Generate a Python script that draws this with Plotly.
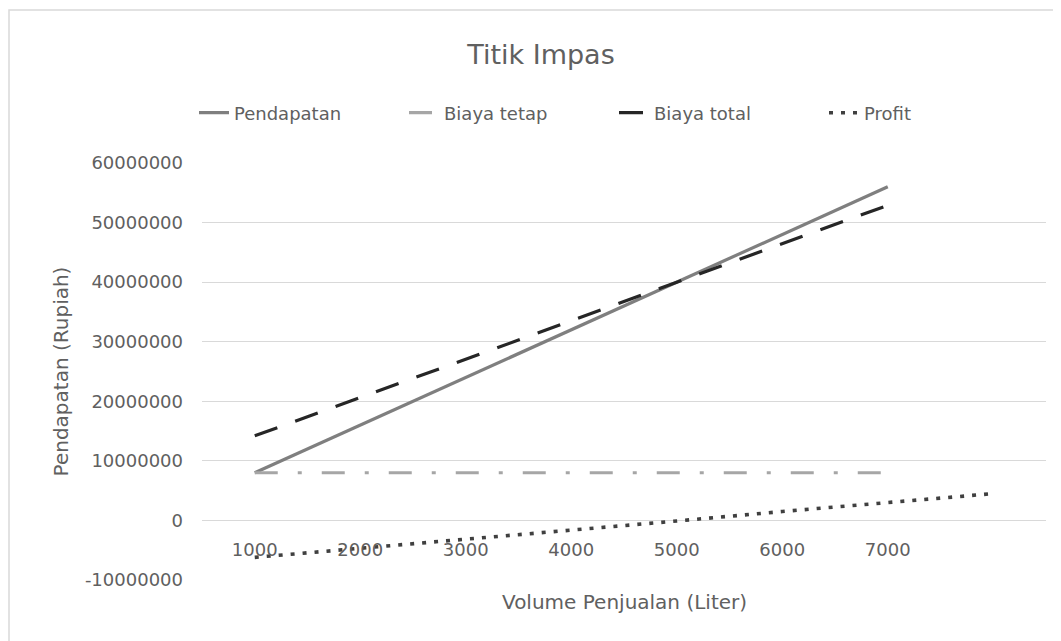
import plotly.graph_objects as go

# ---- data ----
volume = [1000, 2000, 3000, 4000, 5000, 6000, 7000]
profit_volume = [1000, 2000, 3000, 4000, 5000, 6000, 7000, 8000]
x_tick_labels = ["1000", "2000", "3000", "4000", "5000", "6000", "7000"]
y_tick_values = [-10000000, 0, 10000000, 20000000, 30000000, 40000000, 50000000, 60000000]
y_tick_labels = ["-10000000", "0", "10000000", "20000000", "30000000", "40000000",
                 "50000000", "60000000"]

pendapatan = [8000000, 16000000, 24000000, 32000000, 40000000, 48000000, 56000000]
biaya_tetap = [8000000, 8000000, 8000000, 8000000, 8000000, 8000000, 8000000]
biaya_total = [14200000, 20600000, 27100000, 33500000, 40000000, 46400000, 52900000]
profit = [-6200000, -4700000, -3100000, -1600000, -100000, 1500000, 3000000, 4500000]

FONT = "DejaVu Sans"
TXT = "#606060"
GRID = "#d9d9d9"

W, H = 1053, 633   # page body adds an 8px offset

fig = go.Figure()
fig.add_trace(go.Scatter(x=volume, y=pendapatan, name="Pendapatan", mode="lines",
                         line=dict(color="#7f7f7f", width=3.2)))
fig.add_trace(go.Scatter(x=volume, y=biaya_tetap, name="Biaya tetap", mode="lines",
                         line=dict(color="#a6a6a6", width=3.2, dash="23px,20px,4px,20px")))
fig.add_trace(go.Scatter(x=volume, y=biaya_total, name="Biaya total", mode="lines",
                         line=dict(color="#262626", width=3.2, dash="24px,19px")))
fig.add_trace(go.Scatter(x=profit_volume, y=profit, name="Profit", mode="lines",
                         line=dict(color="#404040", width=3.6, dash="4px,8px")))

fig.update_layout(
    width=W, height=H,
    margin=dict(l=194, r=15, t=155, b=61, autoexpand=False),
    paper_bgcolor="white", plot_bgcolor="white",
    font=dict(family=FONT, color=TXT, size=18),
    title=dict(text="Titik Impas", font=dict(family=FONT, size=27, color=TXT),
               xref="container", x=533/W, xanchor="center",
               yref="container", y=1-47/H, yanchor="middle"),
    legend=dict(orientation="h", xref="container", yref="container",
                x=186/W, xanchor="left", y=1-105/H, yanchor="middle",
                font=dict(family=FONT, size=18, color=TXT),
                entrywidth=165, bgcolor="rgba(0,0,0,0)"),
    showlegend=True,
    xaxis=dict(range=[500, 8500], tickvals=volume, ticktext=x_tick_labels,
               showgrid=False, zeroline=False, showline=False, ticks="",
               anchor="free", position=1/7, ticklabelstandoff=17,
               tickfont=dict(family=FONT, size=18, color=TXT)),
    yaxis=dict(range=[-10000000, 60000000], tickvals=y_tick_values, ticktext=y_tick_labels,
               showgrid=True, gridcolor=GRID, gridwidth=1.3,
               zeroline=True, zerolinecolor=GRID, zerolinewidth=1.3,
               showline=False, ticks="", ticklabelstandoff=18,
               tickfont=dict(family=FONT, size=18, color=TXT),
               title=dict(text="Pendapatan (Rupiah)", standoff=10,
                          font=dict(family=FONT, size=20, color=TXT))),
    annotations=[dict(text="Volume Penjualan (Liter)", xref="paper", yref="paper",
                      x=0.5, y=0, xanchor="center", yanchor="top", yshift=-8,
                      showarrow=False, font=dict(family=FONT, size=20, color=TXT))],
    shapes=[dict(type="rect", xref="paper", yref="paper",
                 x0=(1-194)/844, x1=1.05, y0=-0.3, y1=(572-2)/417,
                 line=dict(color=GRID, width=1.5), fillcolor="rgba(0,0,0,0)",
                 layer="below")],
)

fig.write_html("out.html")
